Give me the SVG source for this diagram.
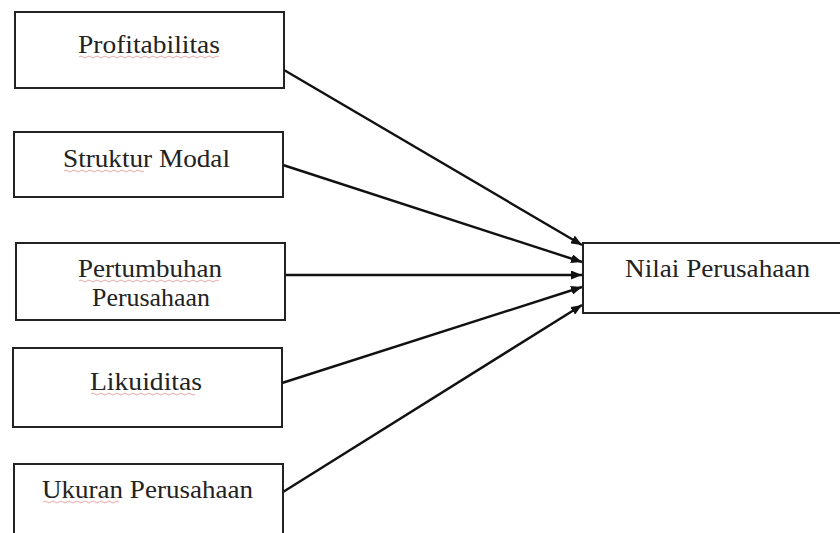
<svg xmlns="http://www.w3.org/2000/svg" width="840" height="533" viewBox="0 0 840 533">
<style>
.box{fill:#fff;stroke:#222;stroke-width:2}
.t{font-family:"Liberation Serif","Times New Roman",serif;font-size:26px;fill:#222;text-anchor:middle}
.c{stroke:#111;stroke-width:2.4;fill:none}
.sq{stroke:#e08080;stroke-width:1;fill:none;opacity:0.7}
</style>
<defs>
<marker id="ah" markerWidth="11" markerHeight="9" refX="11" refY="4.5" orient="auto" markerUnits="userSpaceOnUse">
<path d="M0,0 L11,4.5 L0,9 Z" fill="#111"/>
</marker>
</defs>
<rect width="840" height="533" fill="#fff"/>
<g id="connectors">
<line class="c" x1="284" y1="70" x2="582" y2="245" marker-end="url(#ah)"/>
<line class="c" x1="283" y1="165" x2="582" y2="262" marker-end="url(#ah)"/>
<line class="c" x1="285" y1="275" x2="582" y2="275" marker-end="url(#ah)"/>
<line class="c" x1="282" y1="383" x2="582" y2="287" marker-end="url(#ah)"/>
<line class="c" x1="283" y1="492" x2="582" y2="305" marker-end="url(#ah)"/>
</g>
<g id="profitabilitas">
<rect class="box" x="15" y="12" width="269" height="76"/>
<text class="t" x="149" y="53" textLength="142" lengthAdjust="spacingAndGlyphs">Profitabilitas</text>
<path class="sq" d="M79,57 q2,-2 4,0 t4,0 t4,0 t4,0 t4,0 t4,0 t4,0 t4,0 t4,0 t4,0 t4,0 t4,0 t4,0 t4,0 t4,0 t4,0 t4,0 t4,0 t4,0 t4,0 t4,0 t4,0 t4,0 t4,0 t4,0 t4,0 t4,0 t4,0 t4,0 t4,0 t4,0 t4,0 t4,0 t4,0 t4,0"/>
</g>
<g id="struktur-modal">
<rect class="box" x="14" y="132" width="269" height="65"/>
<text class="t" x="146.5" y="167" textLength="167" lengthAdjust="spacingAndGlyphs">Struktur Modal</text>
<path class="sq" d="M64,171 q2,-2 4,0 t4,0 t4,0 t4,0 t4,0 t4,0 t4,0 t4,0 t4,0 t4,0 t4,0 t4,0 t4,0 t4,0 t4,0 t4,0 t4,0 t4,0 t4,0 t4,0"/>
</g>
<g id="pertumbuhan-perusahaan">
<rect class="box" x="16" y="243" width="269" height="77"/>
<text class="t" x="150" y="277" textLength="144" lengthAdjust="spacingAndGlyphs">Pertumbuhan</text>
<text class="t" x="151" y="306" textLength="118" lengthAdjust="spacingAndGlyphs">Perusahaan</text>
<path class="sq" d="M79,281 q2,-2 4,0 t4,0 t4,0 t4,0 t4,0 t4,0 t4,0 t4,0 t4,0 t4,0 t4,0 t4,0 t4,0 t4,0 t4,0 t4,0 t4,0 t4,0 t4,0 t4,0 t4,0 t4,0 t4,0 t4,0 t4,0 t4,0 t4,0 t4,0 t4,0 t4,0 t4,0 t4,0 t4,0 t4,0 t4,0"/>
</g>
<g id="likuiditas">
<rect class="box" x="13" y="348" width="269" height="79"/>
<text class="t" x="146" y="390" textLength="112" lengthAdjust="spacingAndGlyphs">Likuiditas</text>
<path class="sq" d="M91,394 q2,-2 4,0 t4,0 t4,0 t4,0 t4,0 t4,0 t4,0 t4,0 t4,0 t4,0 t4,0 t4,0 t4,0 t4,0 t4,0 t4,0 t4,0 t4,0 t4,0 t4,0 t4,0 t4,0 t4,0 t4,0 t4,0 t4,0"/>
</g>
<g id="ukuran-perusahaan">
<rect class="box" x="14" y="464" width="269" height="80"/>
<text class="t" x="147.5" y="498" textLength="211" lengthAdjust="spacingAndGlyphs">Ukuran Perusahaan</text>
<path class="sq" d="M43,502 q2,-2 4,0 t4,0 t4,0 t4,0 t4,0 t4,0 t4,0 t4,0 t4,0 t4,0 t4,0 t4,0 t4,0 t4,0 t4,0 t4,0 t4,0 t4,0 t4,0"/>
</g>
<g id="nilai-perusahaan">
<rect class="box" x="583" y="243" width="270" height="70"/>
<text class="t" x="717.5" y="277" textLength="185" lengthAdjust="spacingAndGlyphs">Nilai Perusahaan</text>
</g>
</svg>
